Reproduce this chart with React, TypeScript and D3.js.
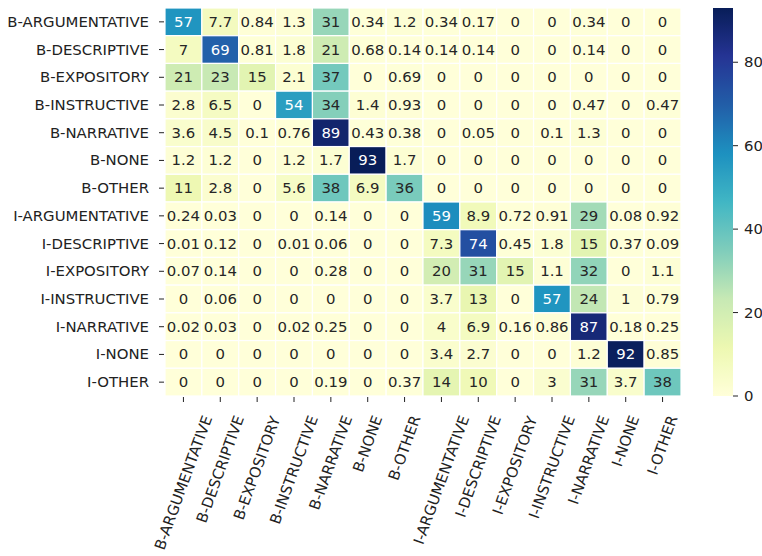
import React, { useEffect, useRef } from "react";
import * as d3 from "d3";

const labels = [
  "B-ARGUMENTATIVE", "B-DESCRIPTIVE", "B-EXPOSITORY", "B-INSTRUCTIVE", "B-NARRATIVE",
  "B-NONE", "B-OTHER", "I-ARGUMENTATIVE", "I-DESCRIPTIVE", "I-EXPOSITORY",
  "I-INSTRUCTIVE", "I-NARRATIVE", "I-NONE", "I-OTHER",
];

const rowBArg = [57, 7.7, 0.84, 1.3, 31, 0.34, 1.2, 0.34, 0.17, 0, 0, 0.34, 0, 0];
const rowBDes = [7, 69, 0.81, 1.8, 21, 0.68, 0.14, 0.14, 0.14, 0, 0, 0.14, 0, 0];
const rowBExp = [21, 23, 15, 2.1, 37, 0, 0.69, 0, 0, 0, 0, 0, 0, 0];
const rowBIns = [2.8, 6.5, 0, 54, 34, 1.4, 0.93, 0, 0, 0, 0, 0.47, 0, 0.47];
const rowBNar = [3.6, 4.5, 0.1, 0.76, 89, 0.43, 0.38, 0, 0.05, 0, 0.1, 1.3, 0, 0];
const rowBNone = [1.2, 1.2, 0, 1.2, 1.7, 93, 1.7, 0, 0, 0, 0, 0, 0, 0];
const rowBOth = [11, 2.8, 0, 5.6, 38, 6.9, 36, 0, 0, 0, 0, 0, 0, 0];
const rowIArg = [0.24, 0.03, 0, 0, 0.14, 0, 0, 59, 8.9, 0.72, 0.91, 29, 0.08, 0.92];
const rowIDes = [0.01, 0.12, 0, 0.01, 0.06, 0, 0, 7.3, 74, 0.45, 1.8, 15, 0.37, 0.09];
const rowIExp = [0.07, 0.14, 0, 0, 0.28, 0, 0, 20, 31, 15, 1.1, 32, 0, 1.1];
const rowIIns = [0, 0.06, 0, 0, 0, 0, 0, 3.7, 13, 0, 57, 24, 1, 0.79];
const rowINar = [0.02, 0.03, 0, 0.02, 0.25, 0, 0, 4, 6.9, 0.16, 0.86, 87, 0.18, 0.25];
const rowINone = [0, 0, 0, 0, 0, 0, 0, 3.4, 2.7, 0, 0, 1.2, 92, 0.85];
const rowIOth = [0, 0, 0, 0, 0.19, 0, 0.37, 14, 10, 0, 3, 31, 3.7, 38];

const matrix = [
  rowBArg, rowBDes, rowBExp, rowBIns, rowBNar, rowBNone, rowBOth,
  rowIArg, rowIDes, rowIExp, rowIIns, rowINar, rowINone, rowIOth,
];

const colorbarTicks = [0, 20, 40, 60, 80];
const ylgnbu = ["#ffffd9", "#edf8b1", "#c7e9b4", "#7fcdbb", "#41b6c4", "#1d91c0", "#225ea8", "#253494", "#081d58"];

function luminance(c: string) {
  const rgb = d3.rgb(c);
  const f = (v: number) => {
    const s = v / 255;
    return s <= 0.03928 ? s / 12.92 : Math.pow((s + 0.055) / 1.055, 2.4);
  };
  return 0.2126 * f(rgb.r) + 0.7152 * f(rgb.g) + 0.0722 * f(rgb.b);
}

export default function App() {
  const ref = useRef<SVGSVGElement>(null);

  useEffect(() => {
    document.body.style.margin = "0";
    const svg = d3.select(ref.current);
    svg.selectAll("*").remove();

    const font = "DejaVu Sans, sans-serif";
    const fs = 14.9;
    const left = 165, right = 681, top = 8, bottom = 396;
    const vmax = d3.max(matrix.flat()) as number;

    const x = d3.scaleBand<string>().domain(labels).range([left, right]);
    const y = d3.scaleBand<string>().domain(labels).range([top, bottom]);
    const color = d3.scaleLinear<string>()
      .domain(ylgnbu.map((_, i) => (i / (ylgnbu.length - 1)) * vmax))
      .range(ylgnbu)
      .interpolate(d3.interpolateRgb)
      .clamp(true);

    const g = svg.append("g");
    matrix.forEach((row, ri) => {
      row.forEach((v, ci) => {
        const cx = x(labels[ci])!, cy = y(labels[ri])!;
        const fill = color(v);
        g.append("rect")
          .attr("x", cx).attr("y", cy)
          .attr("width", x.bandwidth()).attr("height", y.bandwidth())
          .attr("fill", fill)
          .attr("stroke", "white").attr("stroke-width", 1.2);
        g.append("text")
          .attr("x", cx + x.bandwidth() / 2)
          .attr("y", cy + y.bandwidth() / 2)
          .attr("text-anchor", "middle")
          .attr("dominant-baseline", "central")
          .attr("font-family", font).attr("font-size", fs)
          .attr("fill", luminance(fill) > 0.408 ? "#262626" : "#ffffff")
          .text(String(v));
      });
    });

    // y axis
    labels.forEach((l) => {
      const cy = y(l)! + y.bandwidth() / 2;
      svg.append("line").attr("x1", left - 6).attr("x2", left - 1)
        .attr("y1", cy).attr("y2", cy).attr("stroke", "#222").attr("stroke-width", 1);
      svg.append("text").attr("x", 149).attr("y", cy)
        .attr("text-anchor", "end").attr("dominant-baseline", "central")
        .attr("font-family", font).attr("font-size", fs).attr("fill", "#222")
        .text(l);
    });

    // x axis
    labels.forEach((l) => {
      const cx = x(l)! + x.bandwidth() / 2;
      svg.append("line").attr("x1", cx).attr("x2", cx)
        .attr("y1", bottom + 1).attr("y2", bottom + 6).attr("stroke", "#222").attr("stroke-width", 1);
      const lg = svg.append("g").attr("transform", `translate(${cx},415)`);
      const t = lg.append("text")
        .attr("transform", "rotate(-70)")
        .attr("text-anchor", "end").attr("dominant-baseline", "central")
        .attr("font-family", font).attr("font-size", fs).attr("fill", "#222")
        .text(l);
      const node = t.node() as SVGTextElement;
      const r = node.getBoundingClientRect();
      const dx = cx - (r.left + r.width / 2);
      const dy = 413 - r.top;
      lg.attr("transform", `translate(${cx + dx},${415 + dy})`);
    });

    // colorbar
    const cbx0 = 713, cbx1 = 733;
    const defs = svg.append("defs");
    const grad = defs.append("linearGradient").attr("id", "cbgrad")
      .attr("x1", 0).attr("y1", 1).attr("x2", 0).attr("y2", 0);
    d3.range(0, 101).forEach((i) => {
      grad.append("stop").attr("offset", `${i}%`).attr("stop-color", color((i / 100) * vmax));
    });
    svg.append("rect").attr("x", cbx0).attr("y", top)
      .attr("width", cbx1 - cbx0).attr("height", bottom - top)
      .attr("fill", "url(#cbgrad)");
    const cy = d3.scaleLinear().domain([0, vmax]).range([bottom, top]);
    colorbarTicks.forEach((v) => {
      svg.append("line").attr("x1", cbx1).attr("x2", cbx1 + 5)
        .attr("y1", cy(v)).attr("y2", cy(v)).attr("stroke", "#222").attr("stroke-width", 1);
      svg.append("text").attr("x", cbx1 + 11).attr("y", cy(v))
        .attr("dominant-baseline", "central")
        .attr("font-family", font).attr("font-size", fs).attr("fill", "#222")
        .text(String(v));
    });
  }, []);

  return <svg ref={ref} width={762} height={556} style={{ display: "block", background: "white" }} />;
}
